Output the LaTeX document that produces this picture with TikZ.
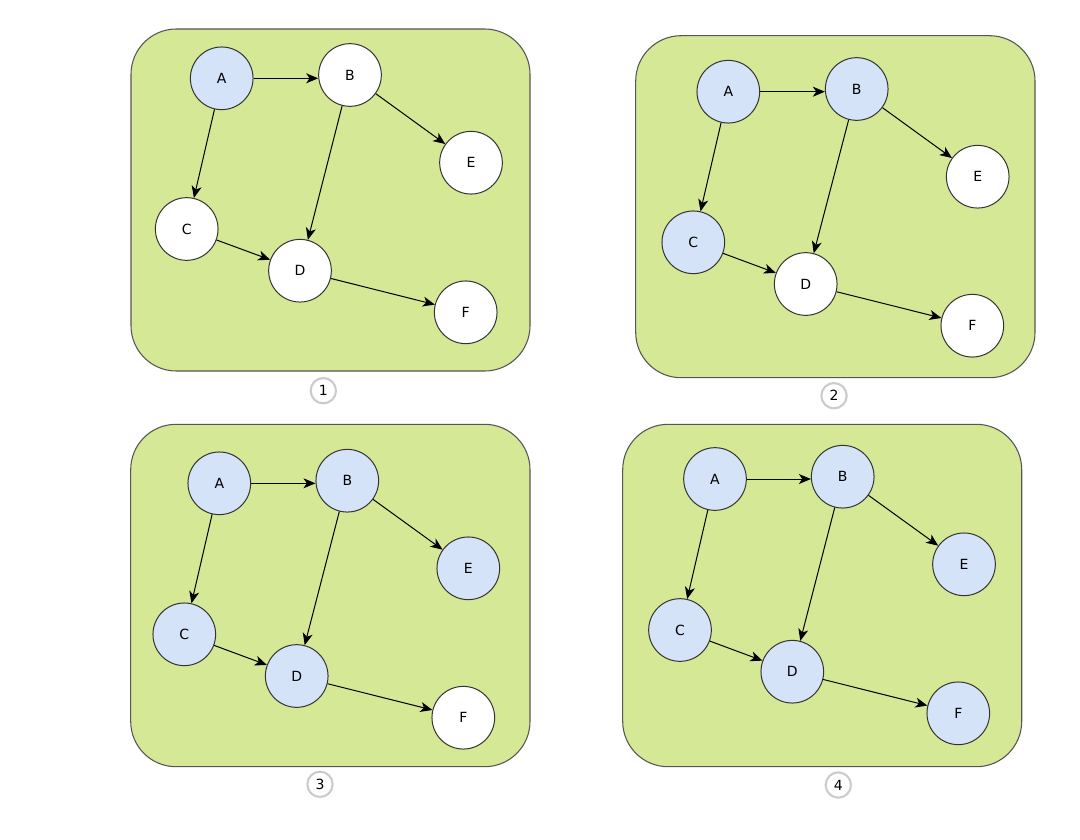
\documentclass[tikz,border=0pt]{standalone}
\usepackage{fontspec}
\setmainfont{DejaVu Sans}
\usetikzlibrary{arrows.meta}
\definecolor{panelgreen}{HTML}{D5E896}
\definecolor{panelline}{HTML}{555555}
\definecolor{visitblue}{HTML}{D4E3F8}
\definecolor{nodeline}{HTML}{333333}
\definecolor{numline}{HTML}{CCCCCC}
\tikzset{
  panel/.style={draw=panelline, fill=panelgreen, line width=0.8pt, rounded corners=34pt},
  vtx/.style={circle, draw=nodeline, fill=white, line width=0.75pt, minimum size=47pt, inner sep=0pt, font=\fontsize{10.5}{12}\selectfont},
  vis/.style={vtx, fill=visitblue},
  arr/.style={-{Stealth[length=9pt,width=7.5pt,inset=2.5pt]}, line width=0.75pt, black},
  num/.style={circle, draw=numline, fill=white, line width=1.6pt, minimum size=19pt, inner sep=0pt, font=\fontsize{10.5}{12}\selectfont}
}
\begin{document}
\begin{tikzpicture}[x=0.75pt,y=-0.75pt]
\useasboundingbox (0,0) rectangle (1080,839);
% ---------- Panel 1 ----------
\draw[panel] (131,29) rectangle (530,371);
\node[vis] (a1) at (221.7,78.3) {A};
\node[vtx] (b1) at (350,75) {B};
\node[vtx] (e1) at (471,162.7) {E};
\node[vtx] (c1) at (186.7,229) {C};
\node[vtx] (d1) at (300,270.7) {D};
\node[vtx] (f1) at (465.7,312.3) {F};
\draw[arr] (a1.east) -- (a1.east -| b1.west);
\draw[arr] (a1) -- (c1);
\draw[arr] (b1) -- (e1);
\draw[arr] (b1) -- (d1);
\draw[arr] (c1) -- (d1);
\draw[arr] (d1) -- (f1);
\node[num] (n1) at (323.3,390.7) {1};
% ---------- Panel 2 ----------
\draw[panel] (635.7,35.7) rectangle (1035,377.7);
\node[vis] (a2) at (728.3,91.7) {A};
\node[vis] (b2) at (856.7,89) {B};
\node[vtx] (e2) at (977.7,176.7) {E};
\node[vis] (c2) at (693.3,242.3) {C};
\node[vtx] (d2) at (805.7,284) {D};
\node[vtx] (f2) at (972.3,325.7) {F};
\draw[arr] (a2.east) -- (a2.east -| b2.west);
\draw[arr] (a2) -- (c2);
\draw[arr] (b2) -- (e2);
\draw[arr] (b2) -- (d2);
\draw[arr] (c2) -- (d2);
\draw[arr] (d2) -- (f2);
\node[num] (n2) at (834,395.7) {2};
% ---------- Panel 3 ----------
\draw[panel] (130.7,424.3) rectangle (530,766.7);
\node[vis] (a3) at (219.3,483.3) {A};
\node[vis] (b3) at (347.3,480.7) {B};
\node[vis] (e3) at (468.3,568.3) {E};
\node[vis] (c3) at (184.3,634.3) {C};
\node[vis] (d3) at (296.7,676) {D};
\node[vtx] (f3) at (463.3,717.7) {F};
\draw[arr] (a3.east) -- (a3.east -| b3.west);
\draw[arr] (a3) -- (c3);
\draw[arr] (b3) -- (e3);
\draw[arr] (b3) -- (d3);
\draw[arr] (c3) -- (d3);
\draw[arr] (d3) -- (f3);
\node[num] (n3) at (320,784.3) {3};
% ---------- Panel 4 ----------
\draw[panel] (622.7,424.3) rectangle (1021.7,766.7);
\node[vis] (a4) at (715,479) {A};
\node[vis] (b4) at (842.7,476.7) {B};
\node[vis] (e4) at (964,564.3) {E};
\node[vis] (c4) at (680,630) {C};
\node[vis] (d4) at (792.3,671.7) {D};
\node[vis] (f4) at (958.3,713.3) {F};
\draw[arr] (a4.east) -- (a4.east -| b4.west);
\draw[arr] (a4) -- (c4);
\draw[arr] (b4) -- (e4);
\draw[arr] (b4) -- (d4);
\draw[arr] (c4) -- (d4);
\draw[arr] (d4) -- (f4);
\node[num] (n4) at (838.3,785) {4};
\end{tikzpicture}
\end{document}
